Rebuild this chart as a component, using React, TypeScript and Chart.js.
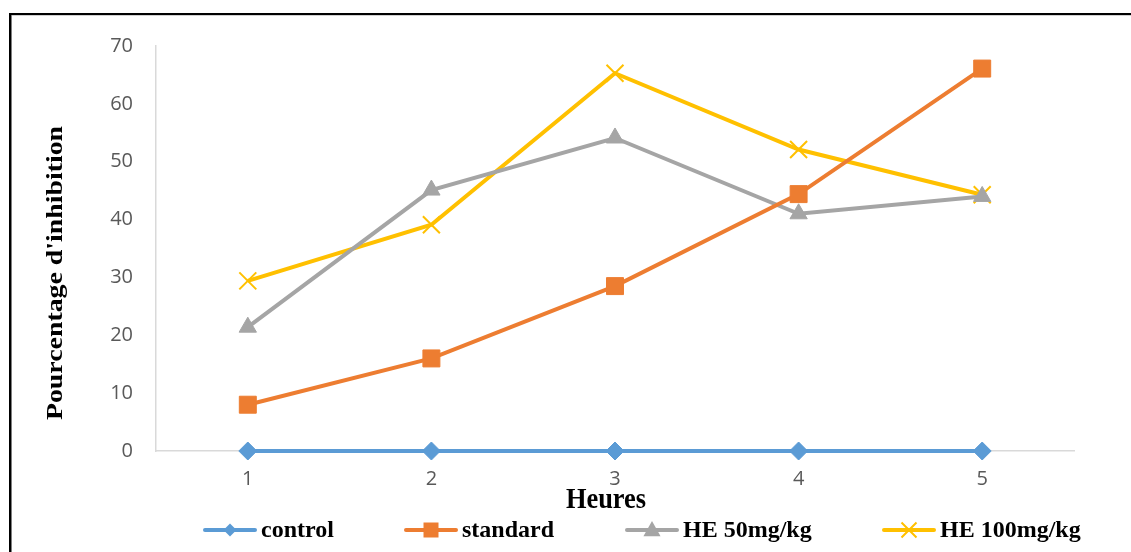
import React, { useEffect, useRef } from "react";
import { Chart, registerables } from "chart.js";

Chart.register(...registerables);

const categories = ["1", "2", "3", "4", "5"];
const control = [0, 0, 0, 0, 0];
const standard = [8, 16, 28.5, 44.4, 66.1];
const he50 = [21.4, 45.1, 54.1, 41.0, 44.0];
const he100 = [29.4, 39.1, 65.3, 52.1, 44.3];
const yTicks = [0, 10, 20, 30, 40, 50, 60, 70];

const seriesNames = ["control", "standard", "HE 50mg/kg", "HE 100mg/kg"];
const seriesColors = ["#5B9BD5", "#ED7D31", "#A5A5A5", "#FFC000"];
const yTitle = "Pourcentage d'inhibition";
const xTitle = "Heures";

const W = 1131;
const H = 552;

function drawMarker(ctx: CanvasRenderingContext2D, kind: string, x: number, y: number, s: number, color: string) {
  ctx.save();
  ctx.fillStyle = color;
  ctx.strokeStyle = color;
  ctx.beginPath();
  if (kind === "diamond") {
    ctx.moveTo(x - s, y);
    ctx.lineTo(x, y - s);
    ctx.lineTo(x + s, y);
    ctx.lineTo(x, y + s);
    ctx.closePath();
    ctx.fill();
  } else if (kind === "square") {
    ctx.rect(x - s, y - s, 2 * s, 2 * s);
    ctx.fill();
  } else if (kind === "triangle") {
    ctx.moveTo(x, y - s);
    ctx.lineTo(x + s * 0.95, y + s * 0.7);
    ctx.lineTo(x - s * 0.95, y + s * 0.7);
    ctx.closePath();
    ctx.fill();
  } else {
    ctx.lineWidth = 2;
    ctx.moveTo(x - s, y - s);
    ctx.lineTo(x + s, y + s);
    ctx.moveTo(x + s, y - s);
    ctx.lineTo(x - s, y + s);
    ctx.stroke();
  }
  ctx.restore();
}

const decorPlugin = {
  id: "decor",
  beforeDraw(chart: any) {
    const ctx = chart.ctx as CanvasRenderingContext2D;
    ctx.save();
    ctx.fillStyle = "#ffffff";
    ctx.fillRect(0, 0, W, H);
    ctx.fillStyle = "#000000";
    ctx.fillRect(9, 13, W - 9, 2);
    ctx.fillRect(9, 13, 2.5, H - 13);
    ctx.fillStyle = "#d0d0d0";
    ctx.fillRect(12, 15, W - 12, 1);
    ctx.restore();
  },
  afterDraw(chart: any) {
    const ctx = chart.ctx as CanvasRenderingContext2D;
    ctx.save();
    // Y title
    ctx.fillStyle = "#000000";
    ctx.font = "bold 24px 'Liberation Serif', 'Times New Roman', serif";
    ctx.textAlign = "center";
    ctx.textBaseline = "middle";
    ctx.translate(56, 273);
    ctx.rotate(-Math.PI / 2);
    ctx.scale(1.16, 1);
    ctx.fillText(yTitle, 0, 0);
    ctx.restore();

    // X title
    ctx.save();
    ctx.fillStyle = "#000000";
    ctx.font = "bold 30px 'Liberation Serif', 'Times New Roman', serif";
    ctx.textAlign = "center";
    ctx.textBaseline = "alphabetic";
    ctx.translate(606, 508);
    ctx.scale(0.88, 1);
    ctx.fillText(xTitle, 0, 0);
    ctx.restore();

    // Legend
    const items = [
      { x0: 203, kind: "diamond", s: 6.5 },
      { x0: 404, kind: "square", s: 7.5 },
      { x0: 625, kind: "triangle", s: 9 },
      { x0: 882, kind: "cross", s: 7.5 },
    ];
    const ly = 530;
    items.forEach((it, i) => {
      const color = seriesColors[i];
      ctx.save();
      ctx.strokeStyle = color;
      ctx.lineWidth = 4;
      ctx.lineCap = "round";
      ctx.beginPath();
      ctx.moveTo(it.x0 + 2, ly);
      ctx.lineTo(it.x0 + 52, ly);
      ctx.stroke();
      ctx.restore();
      drawMarker(ctx, it.kind, it.x0 + 27, ly, it.s, color);
      ctx.save();
      ctx.fillStyle = "#000000";
      ctx.font = "bold 24px 'Liberation Serif', 'Times New Roman', serif";
      ctx.textAlign = "left";
      ctx.textBaseline = "middle";
      ctx.fillText(seriesNames[i], it.x0 + 58, ly + 1);
      ctx.restore();
    });
  },
};

export default function App() {
  const ref = useRef<HTMLCanvasElement | null>(null);

  useEffect(() => {
    if (!ref.current) return;
    const mk = (i: number, data: number[], style: string, radius: number, extra: any = {}) => ({
      label: seriesNames[i],
      data,
      borderColor: seriesColors[i],
      backgroundColor: seriesColors[i],
      borderWidth: 4,
      pointStyle: style,
      pointRadius: radius,
      pointHoverRadius: radius,
      pointBorderColor: seriesColors[i],
      pointBackgroundColor: seriesColors[i],
      pointBorderWidth: 1,
      tension: 0,
      fill: false,
      clip: false,
      ...extra,
    });
    const chart = new Chart(ref.current, {
      type: "line",
      data: {
        labels: categories,
        datasets: [
          mk(3, he100, "crossRot", 12, { pointBorderWidth: 2, order: 4 }),
          mk(2, he50, "triangle", 10, { order: 3 }),
          mk(1, standard, "rect", 12, { order: 2 }),
          mk(0, control, "rectRot", 9, { order: 1 }),
        ],
      },
      options: {
        responsive: false,
        animation: false,
        events: [],
        layout: { padding: { left: 0, top: 46, right: 57, bottom: 61 } },
        plugins: { legend: { display: false }, tooltip: { enabled: false }, title: { display: false } },
        scales: {
          x: {
            type: "category",
            offset: true,
            grid: { display: false, drawTicks: false },
            border: { display: true, color: "#d9d9d9", width: 1.5 },
            ticks: {
              color: "#595959",
              font: { family: "'Open Sans', sans-serif", size: 20 },
              padding: 16,
            },
            afterFit: (s: any) => { s.height = 40; },
          },
          y: {
            min: 0,
            max: 70,
            afterBuildTicks: (s: any) => { s.ticks = yTicks.map((v) => ({ value: v })); },
            grid: { display: false, drawTicks: false },
            border: { display: true, color: "#d9d9d9", width: 1.5 },
            ticks: {
              color: "#595959",
              font: { family: "'Open Sans', sans-serif", size: 20 },
              padding: 23,
            },
            afterFit: (s: any) => { s.width = 156; },
          },
        },
      },
      plugins: [decorPlugin],
    });
    return () => chart.destroy();
  }, []);

  return (
    <div style={{ position: "absolute", left: 0, top: 0, width: W, height: H, background: "#fff" }}>
      <canvas ref={ref} width={W} height={H} style={{ display: "block", width: W, height: H }} />
    </div>
  );
}
